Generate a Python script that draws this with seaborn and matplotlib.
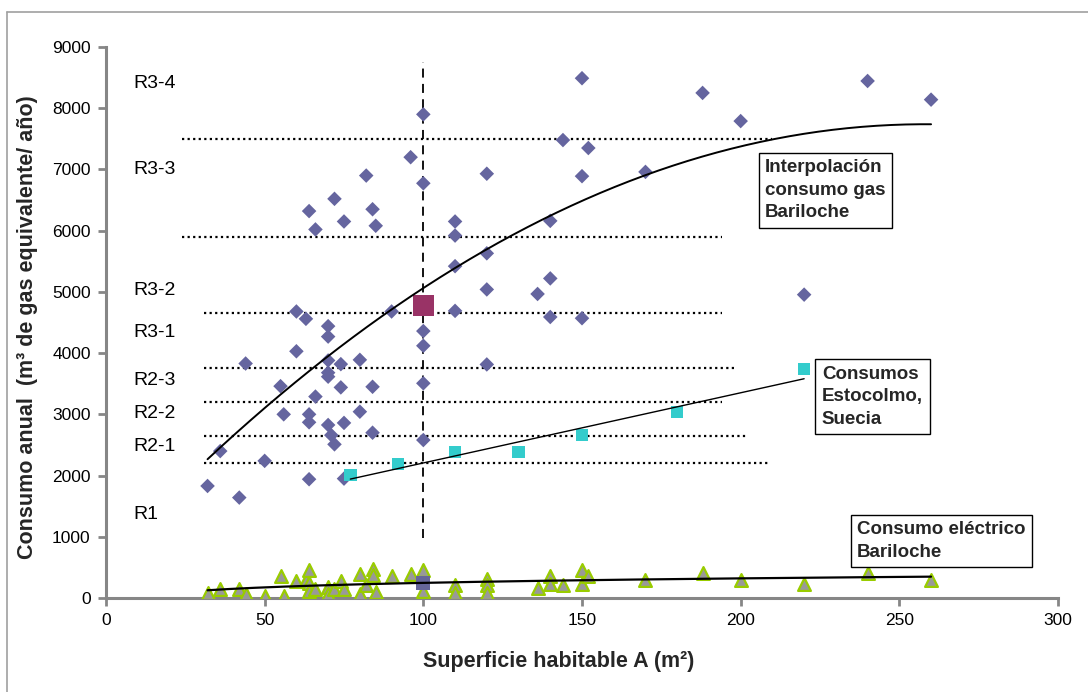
import numpy as np
import pandas as pd
import matplotlib
matplotlib.use("Agg")
import matplotlib.pyplot as plt
import seaborn as sns
from matplotlib.lines import Line2D

sns.set_theme(style="white")
plt.rcParams['font.family'] = ['Liberation Sans', 'DejaVu Sans']

# ---- data ----
gas_x = [32, 42, 36, 50, 44, 55, 56, 60, 63, 60, 64, 64, 64, 66, 70, 70, 70, 70, 70, 70, 71, 72,
         74, 74, 75, 75, 80, 80, 84, 84, 90, 100, 100, 100, 100,
         100, 96, 100, 82, 72, 64, 66, 75, 84, 85,
         150, 188, 200, 240, 260, 144, 152, 120, 150, 170, 110, 140, 110, 110, 120, 120, 136,
         140, 140, 150, 220, 110, 120]
gas_y = [1830, 1640, 2400, 2240, 3830, 3460, 3000, 4680, 4560, 4030, 3000, 2870, 1940, 3290,
         4440, 4270, 3880, 3680, 3615, 2826, 2660, 2510, 3820, 3440, 2860, 1950, 3890, 3043,
         3450, 2700, 4680, 4360, 4120, 3507, 2580,
         7900, 7200, 6774, 6900, 6520, 6320, 6020, 6150, 6350, 6080,
         8490, 8250, 7790, 8445, 8140, 7480, 7350, 6930, 6890, 6960, 6150, 6160, 5920, 5420,
         5630, 5040, 4966, 5220, 4590, 4570, 4955, 4690, 3815]

sto_x = [77, 92, 110, 130, 150, 180, 220]
sto_y = [2010, 2190, 2385, 2385, 2660, 3040, 3740]

ele_x = [32, 36, 42, 44, 50, 55, 56, 60, 63, 64, 64, 64, 66, 70, 70, 72, 74, 75, 80, 80,
         84, 84, 82, 85, 90, 96, 100, 100, 110, 110, 120, 120, 120, 136, 140, 140, 144,
         150, 150, 152, 170, 188, 200, 220, 240, 260]
ele_y = [85, 140, 140, 70, 30, 355, 30, 270, 300, 455, 250, 120, 150, 180, 70, 150, 285, 150,
         395, 70, 475, 370, 205, 95, 355, 395, 450, 120, 205, 85, 315, 205, 85, 160, 355, 230,
         205, 450, 230, 355, 300, 410, 300, 230, 410, 300]

case_x, case_y = [100], [4780]          # highlighted case (magenta)
case_e_x, case_e_y = [100], [245]       # highlighted electric case

# gas trendline
gas_curve_x = [32, 100, 150, 200, 260]
gas_curve_y = [2270, 5060, 6470, 7400, 7730]

levels = [7500, 5900, 4650, 3750, 3200, 2650, 2200]
level_start = [24, 24, 31, 31, 31, 31, 31]
level_end = [210, 194, 194, 199, 194, 202, 209]
zone_labels = ["R3-4", "R3-3", "R3-2", "R3-1", "R2-3", "R2-2", "R2-1", "R1"]
zone_label_y = [8400, 7000, 5030, 4330, 3560, 3020, 2470, 1360]

# ---- figure ----
fig = plt.figure(figsize=(10.88, 6.92), dpi=100)
ax = fig.add_axes([106/1088, 1 - 598/692, (1058-106)/1088, (598-47)/692])

gray = '#868686'

# outer frame (left/top edges visible)
fig.add_artist(Line2D([7/1088, 7/1088], [0, 1 - 12/692], color='#a0a0a0', lw=1.2,
                      transform=fig.transFigure))
fig.add_artist(Line2D([7/1088, 1], [1 - 12/692, 1 - 12/692], color='#a0a0a0', lw=1.2,
                      transform=fig.transFigure))

# horizontal level lines
for lv, s, e in zip(levels, level_start, level_end):
    ax.plot([s, e], [lv, lv], color='black', lw=1.6, ls=(0, (1, 1.5)), zorder=2)

# vertical dashed line at 100 m2
ax.plot([100, 100], [980, 8750], color='black', lw=1.3, ls=(0, (5, 3.5)), zorder=2)

# scatter series
sns.scatterplot(x=gas_x, y=gas_y, marker='D', s=55, color='#65659f', edgecolor='none',
                ax=ax, zorder=3)
sns.scatterplot(x=sto_x, y=sto_y, marker='s', s=80, color='#33cccc', edgecolor='none',
                ax=ax, zorder=3)
sns.scatterplot(x=ele_x, y=ele_y, marker='^', s=85, color='#999999', edgecolor='#99cc00',
                linewidth=1.6, ax=ax, zorder=3)
sns.scatterplot(x=case_x, y=case_y, marker='s', s=230, color='#993366', edgecolor='none',
                ax=ax, zorder=4)
sns.scatterplot(x=case_e_x, y=case_e_y, marker='s', s=100, color='#666699', edgecolor='none',
                ax=ax, zorder=4)

# trendlines
cg = np.polyfit(gas_curve_x, gas_curve_y, 2)
xg = np.linspace(min(gas_x), max(gas_x), 200)
sns.lineplot(x=xg, y=np.polyval(cg, xg), color='black', lw=1.4, ax=ax, zorder=5)

cs = np.polyfit(sto_x, sto_y, 1)
xs = np.linspace(min(sto_x), max(sto_x), 50)
sns.lineplot(x=xs, y=np.polyval(cs, xs), color='black', lw=1.0, ax=ax, zorder=5)

ce = np.polyfit(np.log(ele_x), ele_y, 1)
xe = np.linspace(min(ele_x), max(ele_x), 200)
sns.lineplot(x=xe, y=np.polyval(ce, np.log(xe)), color='black', lw=1.6, ax=ax, zorder=5)

# zone labels
for lab, yy in zip(zone_labels, zone_label_y):
    ax.text(8.5, yy, lab, fontsize=14, ha='left', va='center', color='black')

# annotation boxes
bb = dict(boxstyle='square,pad=0.35', fc='white', ec='black', lw=1.0)
ax.text(207.7, 6660, "Interpolación\nconsumo gas\nBariloche", fontsize=13.5, fontweight='bold',
        ha='left', va='center', linespacing=1.42, bbox=bb, zorder=6)
ax.text(225.6, 3290, "Consumos\nEstocolmo,\nSuecia", fontsize=13.5, fontweight='bold',
        ha='left', va='center', linespacing=1.42, bbox=bb, zorder=6)
ax.text(236.7, 931, "Consumo eléctrico\nBariloche", fontsize=13.5, fontweight='bold',
        ha='left', va='center', linespacing=1.42, bbox=bb, zorder=6)

# axes styling
ax.set_xlim(0, 300)
ax.set_ylim(0, 9000)
ax.set_xticks(range(0, 301, 50))
ax.set_yticks(range(0, 9001, 1000))
for sp in ['top', 'right']:
    ax.spines[sp].set_visible(False)
for sp in ['left', 'bottom']:
    ax.spines[sp].set_color(gray)
    ax.spines[sp].set_linewidth(2.2)
ax.tick_params(axis='both', which='major', direction='out', length=6, width=2, color=gray,
               labelsize=12.5, labelcolor='black', pad=5, left=True, bottom=True)
ax.set_xlabel("Superficie habitable A (m²)", fontsize=15.5, fontweight='bold')
ax.set_ylabel("Consumo anual  (m³ de gas equivalente/ año)", fontsize=15.5, fontweight='bold')
ax.xaxis.set_label_coords((559 - 106) / 952, -(662 - 598) / 551, transform=ax.transAxes)
ax.yaxis.set_label_coords(-(106 - 28) / 952, (598 - 327) / 551, transform=ax.transAxes)
ax.xaxis.label.set_va('center')
ax.yaxis.label.set_va('center')
ax.grid(False)
ax.set_facecolor('white')

fig.savefig("out.png", dpi=100, facecolor='white')
